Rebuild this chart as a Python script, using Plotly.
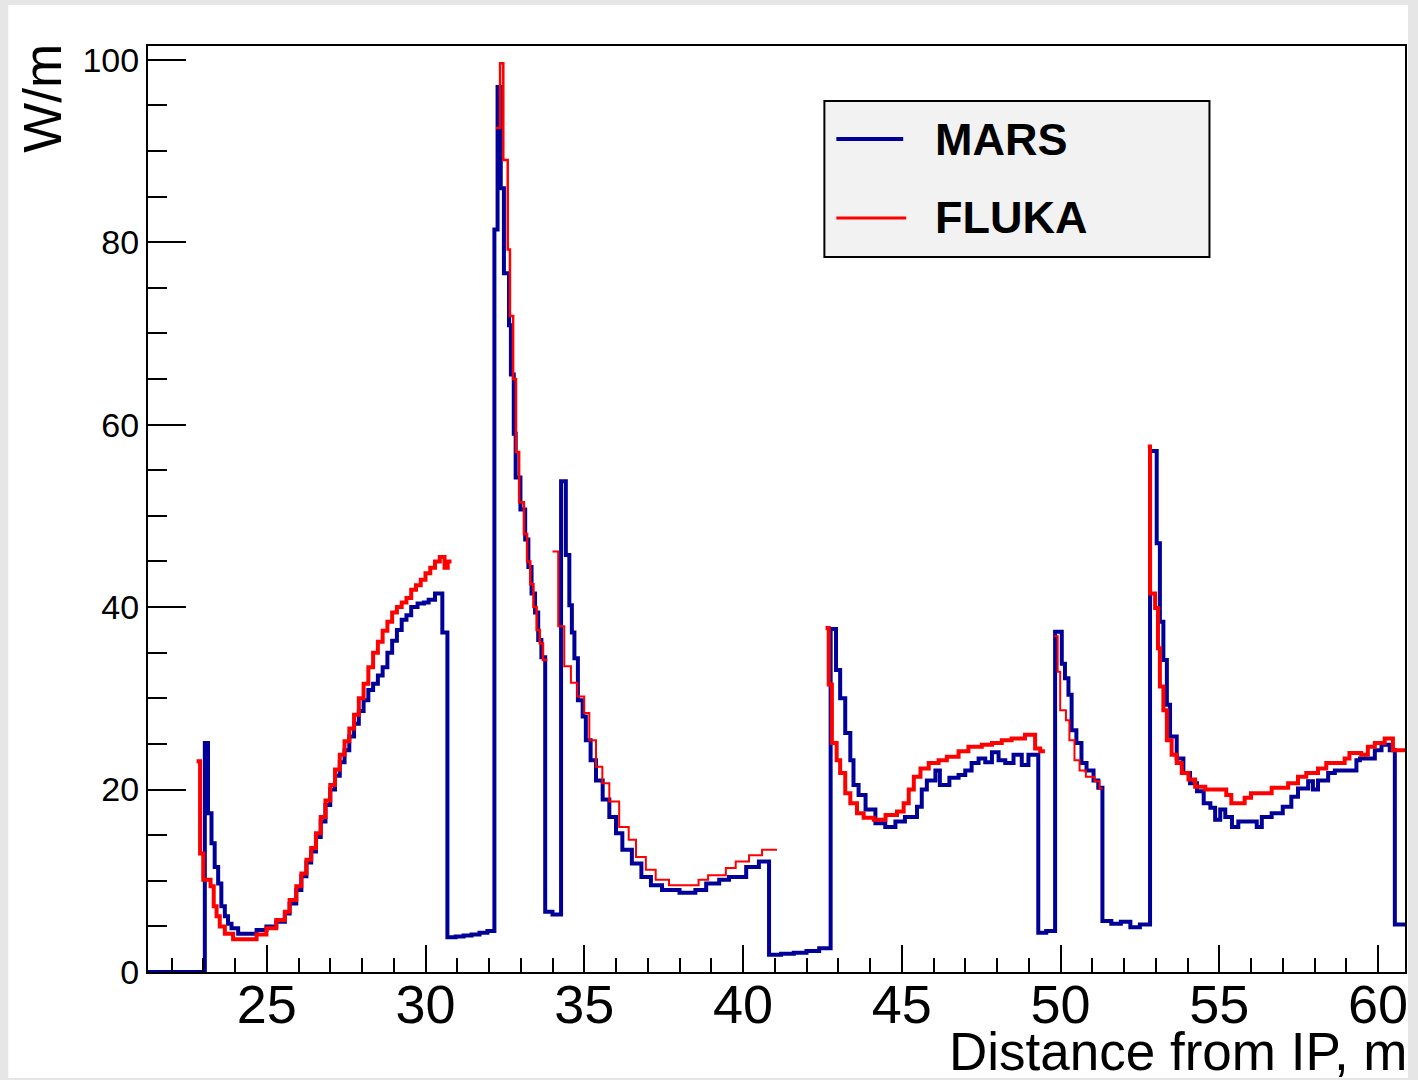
import plotly.graph_objects as go

# ---------------- data (bin left edges, bin values, last right edge) ----------------
mars_edges = [21.26, 23.05, 23.15, 23.26, 23.36, 23.47, 23.57, 23.68, 23.78, 23.89, 24.10, 24.68, 24.99,
              25.30, 25.57, 25.72, 25.93, 26.09, 26.25, 26.40, 26.55, 26.70, 26.85, 27.00, 27.15, 27.30,
              27.45, 27.60, 27.75, 27.90, 28.05, 28.20, 28.35, 28.50, 28.65, 28.80, 28.95, 29.10, 29.25,
              29.40, 29.55, 29.75, 29.95, 30.10, 30.30, 30.53, 30.69, 30.95, 31.20, 31.45, 31.70, 31.95,
              32.17, 32.27, 32.37, 32.47, 32.63, 32.69, 32.78, 32.84, 32.99, 33.14, 33.24, 33.34, 33.45,
              33.55, 33.65, 33.77, 34.00, 34.27, 34.42, 34.53, 34.61, 34.69, 34.80, 34.95, 35.05, 35.20,
              35.37, 35.58, 35.79, 36.00, 36.20, 36.50, 36.80, 37.10, 37.45, 38.00, 38.50, 38.84, 39.25,
              39.56, 40.10, 40.50, 40.82, 41.20, 41.60, 42.00, 42.40, 42.76, 42.93, 43.06, 43.22, 43.38,
              43.48, 43.64, 43.86, 44.17, 44.48, 44.80, 45.10, 45.48, 45.63, 45.79, 46.06, 46.20, 46.50,
              46.79, 47.00, 47.20, 47.42, 47.63, 47.84, 48.05, 48.26, 48.52, 48.78, 48.99, 49.30, 49.55,
              49.83, 50.04, 50.14, 50.25, 50.35, 50.50, 50.66, 50.82, 51.04, 51.19, 51.32, 51.60, 51.90,
              52.20, 52.50, 52.82, 53.03, 53.13, 53.24, 53.35, 53.45, 53.66, 53.87, 54.08, 54.30, 54.51,
              54.72, 54.87, 55.03, 55.19, 55.40, 55.60, 56.18, 56.34, 56.65, 57.00, 57.27, 57.48, 57.80,
              57.95, 58.11, 58.43, 58.64, 59.32, 59.43, 59.90, 60.11, 60.37, 60.53]
mars_values = [0.0, 25.1, 17.4, 14.1, 11.5, 9.7, 7.2, 6.1, 5.3, 4.8, 4.2, 4.6, 5.0,
               5.5, 6.4, 7.5, 9.0, 10.5, 12.0, 13.2, 14.8, 16.5, 18.3, 20.0, 21.5, 23.0,
               24.3, 25.8, 27.2, 28.6, 29.8, 30.9, 31.6, 32.5, 33.4, 35.0, 36.3, 37.5, 38.6,
               39.1, 40.0, 40.4, 40.5, 40.8, 41.5, 37.2, 3.8, 3.9, 4.0, 4.1, 4.3, 4.5,
               81.4, 97.0, 85.9, 76.6, 70.9, 65.5, 59.0, 54.2, 50.7, 47.4, 44.4, 41.5, 39.4,
               36.4, 34.5, 6.6, 6.3, 53.8, 45.7, 40.2, 37.2, 34.4, 29.8, 28.0, 25.4, 23.2,
               21.0, 18.9, 17.0, 15.2, 13.4, 11.9, 10.4, 9.5, 9.0, 8.7, 9.0, 9.7, 10.1,
               10.4, 11.5, 12.1, 1.9, 2.0, 2.1, 2.3, 2.6, 37.6, 33.1, 30.0, 26.2, 23.2,
               20.5, 19.4, 17.8, 16.3, 15.9, 16.5, 17.0, 18.1, 20.0, 21.0, 22.1, 20.5, 21.3,
               21.6, 22.1, 22.9, 23.4, 23.0, 24.1, 23.2, 22.9, 23.8, 22.7, 23.8, 4.3, 4.5,
               37.3, 33.8, 32.2, 30.4, 26.5, 25.1, 22.9, 22.1, 21.0, 20.2, 5.6, 5.3, 5.5,
               4.9, 5.2, 57.1, 47.0, 38.4, 34.2, 29.3, 25.8, 23.4, 21.8, 20.7, 19.8, 18.5,
               18.0, 16.7, 17.8, 17.0, 15.9, 16.5, 15.9, 17.0, 17.4, 18.1, 19.2, 20.1, 20.9,
               20.0, 21.0, 21.8, 22.1, 23.2, 23.4, 24.3, 24.9, 24.3, 5.2]
mars_end = 60.85

fluka1_edges = [22.79, 22.90, 23.00, 23.23, 23.33, 23.42, 23.52, 23.68, 23.94, 24.68, 24.99, 25.30,
                25.57, 25.72, 25.93, 26.09, 26.25, 26.40, 26.55, 26.70, 26.85, 27.00, 27.15, 27.30,
                27.45, 27.60, 27.75, 27.90, 28.05, 28.20, 28.35, 28.50, 28.65, 28.80, 28.95, 29.10,
                29.25, 29.40, 29.55, 29.70, 29.85, 30.00, 30.15, 30.30, 30.45, 30.60, 30.70]
fluka1_values = [23.1, 13.0, 10.1, 9.4, 7.2, 6.1, 5.0, 4.2, 3.6, 4.1, 4.8, 5.7,
                 6.6, 7.9, 9.4, 10.8, 12.3, 13.6, 15.2, 17.0, 18.8, 20.5, 22.2, 23.8,
                 25.3, 26.7, 28.2, 30.0, 31.6, 33.4, 35.0, 36.2, 37.4, 38.4, 39.4, 40.0,
                 40.5, 41.0, 41.9, 42.4, 43.0, 43.7, 44.3, 45.0, 45.5, 44.3, 45.0]
fluka1_end = 30.82

fluka2_edges = [32.22, 32.35, 32.45, 32.59, 32.66, 32.76, 32.85, 32.95, 33.10, 33.20, 33.30, 33.40,
                33.50, 33.60, 33.70]
fluka2_values = [92.5, 99.6, 89.0, 79.2, 71.9, 65.0, 57.0, 51.5, 48.0, 45.0, 42.5, 40.0,
                 37.5, 36.0, 34.2]
fluka2_end = 33.84

fluka3_edges = [34.00, 34.18, 34.37, 34.58, 34.78, 35.00, 35.16, 35.37, 35.57, 35.79, 36.10, 36.40,
                36.63, 36.94, 37.25, 37.67, 38.60, 38.90, 39.46, 39.77, 40.19, 40.60]
fluka3_values = [46.1, 37.9, 33.5, 31.7, 30.2, 28.4, 25.4, 22.5, 20.7, 18.7, 15.9, 14.5,
                 12.6, 11.2, 10.1, 9.5, 10.1, 10.6, 11.4, 12.1, 12.8, 13.4]
fluka3_end = 41.07

fluka4_edges = [42.60, 42.70, 42.80, 42.95, 43.06, 43.22, 43.38, 43.59, 43.80, 44.12, 44.49, 44.85,
                45.06, 45.22, 45.38, 45.59, 45.85, 46.16, 46.42, 46.79, 47.10, 47.52, 47.84, 48.15,
                48.46, 48.88, 49.20, 49.36]
fluka4_values = [37.7, 31.5, 25.1, 23.2, 21.8, 19.6, 18.5, 17.4, 16.9, 16.7, 17.2, 17.6,
                 18.5, 20.0, 21.4, 22.3, 22.9, 23.2, 23.6, 24.2, 24.7, 24.9, 25.1, 25.4,
                 25.6, 26.0, 24.5, 24.2]
fluka4_end = 49.51

fluka5_edges = [49.80, 49.91, 49.99, 50.17, 50.28, 50.44, 50.60, 50.80, 51.07, 51.23]
fluka5_values = [36.8, 32.9, 28.7, 27.6, 25.4, 23.2, 22.1, 21.4, 20.9, 20.1]
fluka5_end = 51.33

fluka6_edges = [52.75, 52.82, 52.98, 53.07, 53.13, 53.24, 53.35, 53.50, 53.66, 53.82, 54.03, 54.24,
                54.56, 55.22, 55.38, 55.80, 56.00, 56.65, 57.17, 57.48, 57.74, 58.11, 58.37, 58.95,
                59.10, 59.47, 59.68, 59.90, 60.21, 60.47]
fluka6_values = [57.6, 41.5, 39.9, 35.5, 31.3, 28.7, 25.4, 23.8, 22.9, 21.8, 21.1, 20.3,
                 20.0, 19.4, 18.5, 19.1, 19.6, 20.2, 20.7, 21.4, 21.8, 22.3, 22.9, 23.4,
                 24.0, 23.8, 24.7, 25.1, 25.6, 24.3]
fluka6_end = 60.85

series_names = ["MARS", "FLUKA"]
x_title = "Distance from IP, m"
y_title = "W/m"

MARS_COLOR = "#000099"
FLUKA_COLOR = "#ff0000"

# ---------------- figure ----------------
def step_xy(edges, values, end):
    return list(edges) + [end], list(values) + [values[-1]]

fig = go.Figure()

mx, my = step_xy(mars_edges, mars_values, mars_end)
fig.add_trace(go.Scatter(x=mx, y=my, mode="lines", line=dict(shape="hv", color=MARS_COLOR, width=4),
                         name=series_names[0], showlegend=False))

fluka_segments = [
    (fluka1_edges, fluka1_values, fluka1_end, 4),
    (fluka2_edges, fluka2_values, fluka2_end, 2.5),
    (fluka3_edges, fluka3_values, fluka3_end, 2),
    (fluka4_edges, fluka4_values, fluka4_end, 4),
    (fluka5_edges, fluka5_values, fluka5_end, 2),
    (fluka6_edges, fluka6_values, fluka6_end, 4),
]
for e, v, end, w in fluka_segments:
    fx, fy = step_xy(e, v, end)
    fig.add_trace(go.Scatter(x=fx, y=fy, mode="lines", line=dict(shape="hv", color=FLUKA_COLOR, width=w),
                             name=series_names[1], legendgroup="fluka", showlegend=False))

# pixel -> paper helpers (plot area: x 148..1408, y 46..972)
L, R, T, B = 148, 1408, 46, 972
W_, H_ = R - L, B - T
def px(x):
    return (x - L) / W_
def py(y):
    return (B - y) / H_

FONT = "Liberation Sans, Arial, Helvetica, sans-serif"

shapes = [
    # white canvas inside the textured frame
    dict(type="rect", xref="paper", yref="paper", x0=px(8), x1=px(1411), y0=py(1078), y1=py(5),
         fillcolor="white", line=dict(width=0), layer="below"),
    # legend box
    dict(type="rect", xref="paper", yref="paper", x0=px(826), x1=px(1212), y0=py(257), y1=py(101),
         fillcolor="#f2f2f2", line=dict(color="black", width=2), layer="above"),
    dict(type="line", xref="paper", yref="paper", x0=px(838), x1=px(905), y0=py(139), y1=py(139),
         line=dict(color=MARS_COLOR, width=4)),
    dict(type="line", xref="paper", yref="paper", x0=px(838), x1=px(908), y0=py(218), y1=py(218),
         line=dict(color=FLUKA_COLOR, width=3)),
]

annotations = [
    dict(text="<b>MARS</b>", xref="paper", yref="paper", x=px(935), y=py(139), xanchor="left",
         yanchor="middle", showarrow=False, font=dict(family=FONT, size=45, color="black")),
    dict(text="<b>FLUKA</b>", xref="paper", yref="paper", x=px(935), y=py(218), xanchor="left",
         yanchor="middle", showarrow=False, font=dict(family=FONT, size=45, color="black")),
    dict(text=x_title, xref="paper", yref="paper", x=px(1413), y=py(1051), xanchor="right",
         yanchor="middle", showarrow=False, font=dict(family=FONT, size=53, color="black")),
    dict(text=y_title, xref="paper", yref="paper", x=px(42), y=py(42), xanchor="center",
         yanchor="top", textangle=-90, showarrow=False, font=dict(family=FONT, size=53, color="black")),
]

fig.update_layout(
    width=1418, height=1080,
    margin=dict(l=L, r=1418 - R, t=T, b=1080 - B, pad=0),
    paper_bgcolor="#e6e6e6",
    plot_bgcolor="white",
    showlegend=False,
    shapes=shapes,
    annotations=annotations,
    font=dict(family=FONT, color="black"),
)

fig.update_xaxes(
    range=[21.26, 60.85], tick0=0, dtick=5, ticks="inside", ticklen=27, tickwidth=2, tickcolor="black",
    minor=dict(dtick=1, ticks="inside", ticklen=14, tickwidth=2, tickcolor="black"),
    showline=True, linecolor="black", linewidth=2, mirror=True, showgrid=False, zeroline=False,
    tickfont=dict(family=FONT, size=54, color="black"), ticklabelstandoff=-16,
)
fig.update_yaxes(
    range=[0, 101.5], tick0=0, dtick=20, ticks="inside", ticklen=38, tickwidth=2, tickcolor="black",
    minor=dict(dtick=5, ticks="inside", ticklen=19, tickwidth=2, tickcolor="black"),
    showline=True, linecolor="black", linewidth=2, mirror=True, showgrid=False, zeroline=False,
    tickfont=dict(family=FONT, size=34, color="black"),
)

fig.write_html("out.html")
